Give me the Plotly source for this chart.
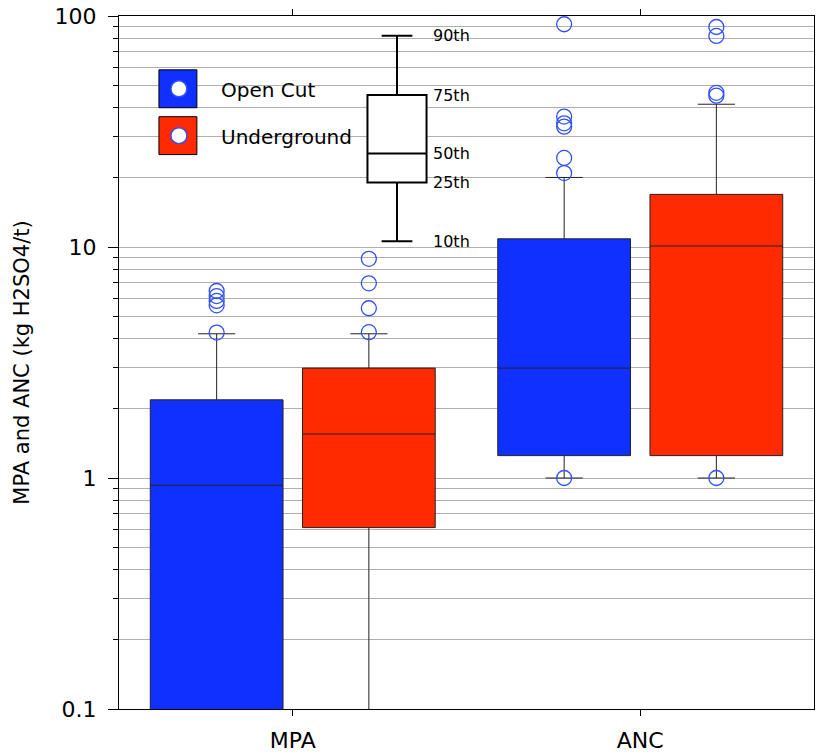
import math
import plotly.graph_objects as go

# ---------------- data ----------------
categories = ["MPA", "ANC"]
groups = ["Open Cut", "Underground"]
group_colors = ["#1030ff", "#ff2a00"]

oc_q1 = [0.05, 1.25]
oc_median = [0.93, 2.99]
oc_q3 = [2.18, 10.85]
oc_lower = [0.02, 1.0]
oc_upper = [4.21, 20.0]
oc_outliers = [[6.45, 6.13, 5.84, 5.59, 4.26],
               [92.1, 36.7, 34.3, 33.2, 24.3, 20.9, 1.0]]

ug_q1 = [0.61, 1.25]
ug_median = [1.55, 10.1]
ug_q3 = [2.99, 16.9]
ug_lower = [0.03, 1.0]
ug_upper = [4.21, 41.5]
ug_outliers = [[8.89, 6.96, 5.43, 4.28],
               [89.6, 82.0, 46.5, 45.2, 1.0]]

key_labels = ["10th", "25th", "50th", "75th", "90th"]
key_values = [10.6, 19.0, 25.4, 45.5, 82.2]

y_major = [0.1, 1, 10, 100]
y_major_text = ["0.1", "1", "10", "100"]
y_minor = [m * 10 ** e for e in (-1, 0, 1) for m in range(2, 10)]

# ---------------- layout constants ----------------
W, H = 816, 754
ML, MR, MT, MB = 119, 1, 16, 43
PW, PH = W - ML - MR, H - MT - MB
FONT = "DejaVu Sans"
group_offsets = [-0.219, 0.219]
box_width = 0.382
key_x = 0.30
key_width = 0.17
outlier_color = "#3050ff"


def px_x(p):
    return (p - ML) / PW


def px_y(p):
    return (H - MB - p) / PH


fig = go.Figure()

stats = [
    (oc_q1, oc_median, oc_q3, oc_lower, oc_upper, oc_outliers),
    (ug_q1, ug_median, ug_q3, ug_lower, ug_upper, ug_outliers),
]

for g, (q1, med, q3, lo, hi, outs) in enumerate(stats):
    for c in range(len(categories)):
        xpos = c + group_offsets[g]
        fig.add_trace(go.Box(
            x=[xpos], q1=[q1[c]], median=[med[c]], q3=[q3[c]],
            lowerfence=[lo[c]], upperfence=[hi[c]],
            width=box_width, whiskerwidth=0.28,
            fillcolor=group_colors[g],
            line=dict(color="#222222", width=1),
            boxpoints=False, showlegend=False, name=groups[g],
        ))
        fig.add_trace(go.Scatter(
            x=[xpos] * len(outs[c]), y=outs[c], mode="markers",
            marker=dict(symbol="circle-open", size=15, color=outlier_color,
                        line=dict(width=1.3)),
            showlegend=False, hoverinfo="skip",
        ))

# key box
fig.add_trace(go.Box(
    x=[key_x], lowerfence=[key_values[0]], q1=[key_values[1]],
    median=[key_values[2]], q3=[key_values[3]], upperfence=[key_values[4]],
    width=key_width, whiskerwidth=0.52, fillcolor="white",
    line=dict(color="black", width=2), boxpoints=False, showlegend=False,
))

annotations = []
for lab, v in zip(key_labels, key_values):
    annotations.append(dict(
        x=key_x + key_width / 2 + 0.012, y=math.log10(v), xref="x", yref="y",
        text=lab, showarrow=False, xanchor="left", yanchor="middle",
        font=dict(family=FONT, size=16, color="black"),
    ))

# y-axis title
annotations.append(dict(
    x=px_x(21), y=0.5, xref="paper", yref="paper",
    text="MPA and ANC (kg H2SO4/t)", textangle=-90, showarrow=False,
    xanchor="center", yanchor="middle",
    font=dict(family=FONT, size=21, color="black"),
))

shapes = []
# legend background
shapes.append(dict(type="rect", xref="paper", yref="paper",
                   x0=px_x(148), x1=px_x(368), y0=px_y(163), y1=px_y(58),
                   fillcolor="white", line=dict(width=0), layer="between"))
legend_rows = [(70, 108), (117, 155)]
for g, (t, b) in enumerate(legend_rows):
    shapes.append(dict(type="rect", xref="paper", yref="paper",
                       x0=px_x(159), x1=px_x(197), y0=px_y(b), y1=px_y(t),
                       fillcolor=group_colors[g],
                       line=dict(color="black", width=1), layer="above"))
    cy = (t + b) / 2
    shapes.append(dict(type="circle", xref="paper", yref="paper",
                       x0=px_x(171), x1=px_x(187), y0=px_y(cy + 8), y1=px_y(cy - 8),
                       fillcolor="white", line=dict(color=outlier_color, width=1.5),
                       layer="above"))
    annotations.append(dict(
        x=px_x(219), y=px_y(cy + 1.5), xref="paper", yref="paper",
        text=groups[g], showarrow=False, xanchor="left", yanchor="middle",
        font=dict(family=FONT, size=20, color="black"),
    ))

grid_color = "#b0b0b0"
fig.update_layout(
    width=W, height=H,
    margin=dict(l=ML, r=MR, t=MT, b=MB, pad=0),
    paper_bgcolor="white", plot_bgcolor="white",
    showlegend=False,
    xaxis=dict(
        range=[-0.5, 1.5], tickmode="array", tickvals=[0, 1],
        ticktext=categories, ticks="outside", ticklen=6, tickcolor="black",
        showline=True, linecolor="black", linewidth=1, mirror="ticks",
        showgrid=False, zeroline=False, ticklabelstandoff=6,
        tickfont=dict(family=FONT, size=22, color="black"),
    ),
    yaxis=dict(
        type="log", range=[-1, 2], tickmode="array", tickvals=y_major,
        ticktext=y_major_text, ticks="outside", ticklen=10, tickcolor="black",
        showline=True, linecolor="black", linewidth=1, mirror=True,
        showgrid=True, gridcolor=grid_color, gridwidth=1, zeroline=False,
        ticklabelstandoff=7,
        tickfont=dict(family=FONT, size=22, color="black"),
        minor=dict(tickmode="array", tickvals=y_minor, ticks="outside",
                   ticklen=5, tickcolor="black", showgrid=True,
                   gridcolor=grid_color, gridwidth=1),
    ),
    shapes=shapes,
    annotations=annotations,
)

fig.write_html("out.html")
